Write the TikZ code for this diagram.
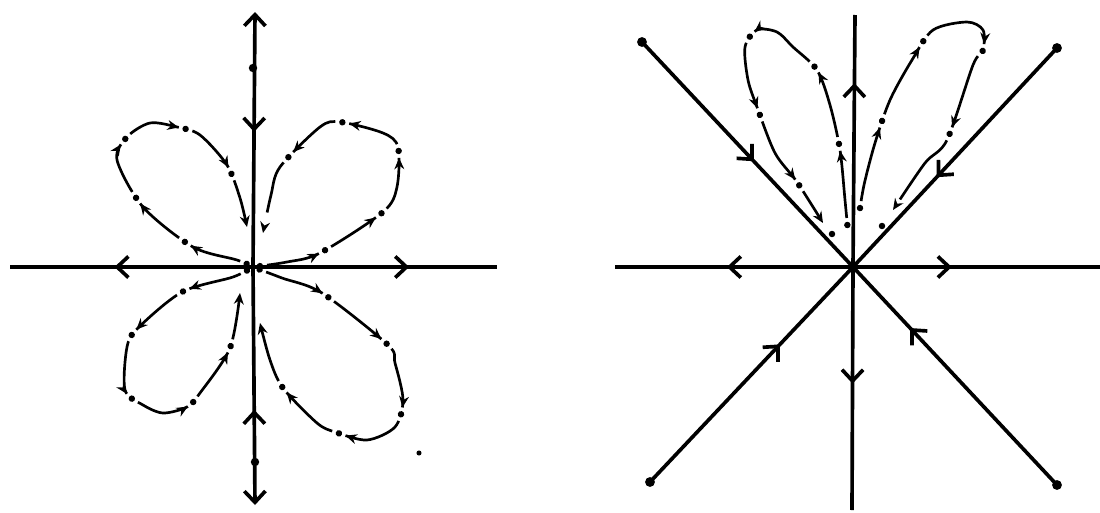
\documentclass[tikz,border=0pt]{standalone}
\usepackage{tikz}
\usetikzlibrary{arrows.meta, decorations.markings}

\tikzset{
  punta/.tip={Straight Barb[length=8pt,width=15pt]},
  fletxa/.tip={Stealth[length=8pt,width=7pt]},
  eix/.style={line width=2.6pt},
  barba/.style={postaction={decorate, decoration={markings,
      mark=at position #1 with {\arrow{punta}}}}},
  orbita/.style 2 args={line width=1.9pt, dash pattern=on #1 off 10pt, dash phase=#1, -{fletxa},
      postaction={decorate, decoration={markings,
        mark=between positions 5pt and -12pt step #2 with {\fill (0,0) circle (2.3pt);}}},
      postaction={decorate, decoration={markings,
        mark=between positions #2 and -28pt step #2 with {\arrow{fletxa}}}}}
}

\begin{document}
\begin{tikzpicture}[x=0.025cm, y=-0.025cm]
    \useasboundingbox (0,0) rectangle (1100,513);
    % Figura esquerra: eixos
    \coordinate (O1) at (253,267);
    \coordinate (E1) at (10,267);
    \coordinate (D1) at (497,267);
    \coordinate (T1) at (255,12);
    \coordinate (B1) at (255,505);
    \draw[eix, barba=0.57] (O1) -- (E1);
    \draw[eix, barba=0.64] (O1) -- (D1);
    \draw[eix, {punta}-, barba=0.47] (T1) -- (O1);
    \draw[eix, {punta}-, barba=0.40] (B1) -- (O1);
    \fill (253,68) circle (3pt);
    \fill (255,462) circle (3pt);
    % Quatre llaços
    \draw[orbita={37pt}{47pt}] plot[smooth] coordinates {(253,267) (237,260) (193,247) (143,207) (117,160) (127,137) (150,123) (177,127) (200,135) (227,165) (240,198) (247,227)};
    \draw[orbita={38pt}{48pt}] plot[smooth] coordinates {(253,267) (287,262) (320,253) (383,212) (397,187) (398,147) (383,133) (340,122) (320,127) (280,167) (271,195) (263,233)};
    \draw[orbita={38pt}{48pt}] plot[smooth] coordinates {(253,267) (233,277) (182,292) (138,328) (127,347) (125,390) (143,405) (163,413) (187,407) (200,393) (230,348) (240,293)};
    \draw[orbita={43pt}{53pt}] plot[smooth] coordinates {(253,267) (282,278) (322,293) (388,345) (395,363) (403,400) (395,427) (367,440) (335,432) (317,423) (283,388) (270,360) (260,323)};
    \fill (419,453) circle (1.8pt);
    % Figura dreta: eixos i diagonals
    \coordinate (O2) at (853,267);
    \coordinate (E2) at (615,267);
    \coordinate (D2) at (1100,267);
    \coordinate (T2) at (855,15);
    \coordinate (B2) at (852,510);
    \coordinate (NO) at (642,42);
    \coordinate (NE) at (1057,48);
    \coordinate (SO) at (650,482);
    \coordinate (SE) at (1057,485);
    \draw[eix, barba=0.53] (O2) -- (E2);
    \draw[eix, barba=0.40] (O2) -- (D2);
    \draw[eix, barba=0.73] (O2) -- (T2);
    \draw[eix, barba=0.48] (O2) -- (B2);
    \draw[eix, barba=0.53] (NO) -- (O2);
    \draw[eix, barba=0.59] (NE) -- (O2);
    \draw[eix, barba=0.64] (SO) -- (O2);
    \draw[eix, barba=0.72] (SE) -- (O2);
    \foreach \p in {NO, NE, SO, SE}
        \fill (\p) circle (3.5pt);
    % Dos llaços
    \draw[orbita={48pt}{58pt}] plot[smooth] coordinates {(848,232) (845,200) (840,150) (830,105) (817,70) (793,47) (777,32) (757,30) (745,47) (748,80) (757,107) (775,153) (797,182) (823,223)};
    \draw[orbita={54pt}{64pt}] plot[smooth] coordinates {(859,215) (864,185) (875,143) (890,100) (912,60) (933,30) (967,22) (983,30) (983,50) (973,65) (947,140) (925,163) (893,210)};
    \fill (832,234) circle (2.3pt);
    \fill (882,226) circle (2.3pt);
\end{tikzpicture}
\end{document}
